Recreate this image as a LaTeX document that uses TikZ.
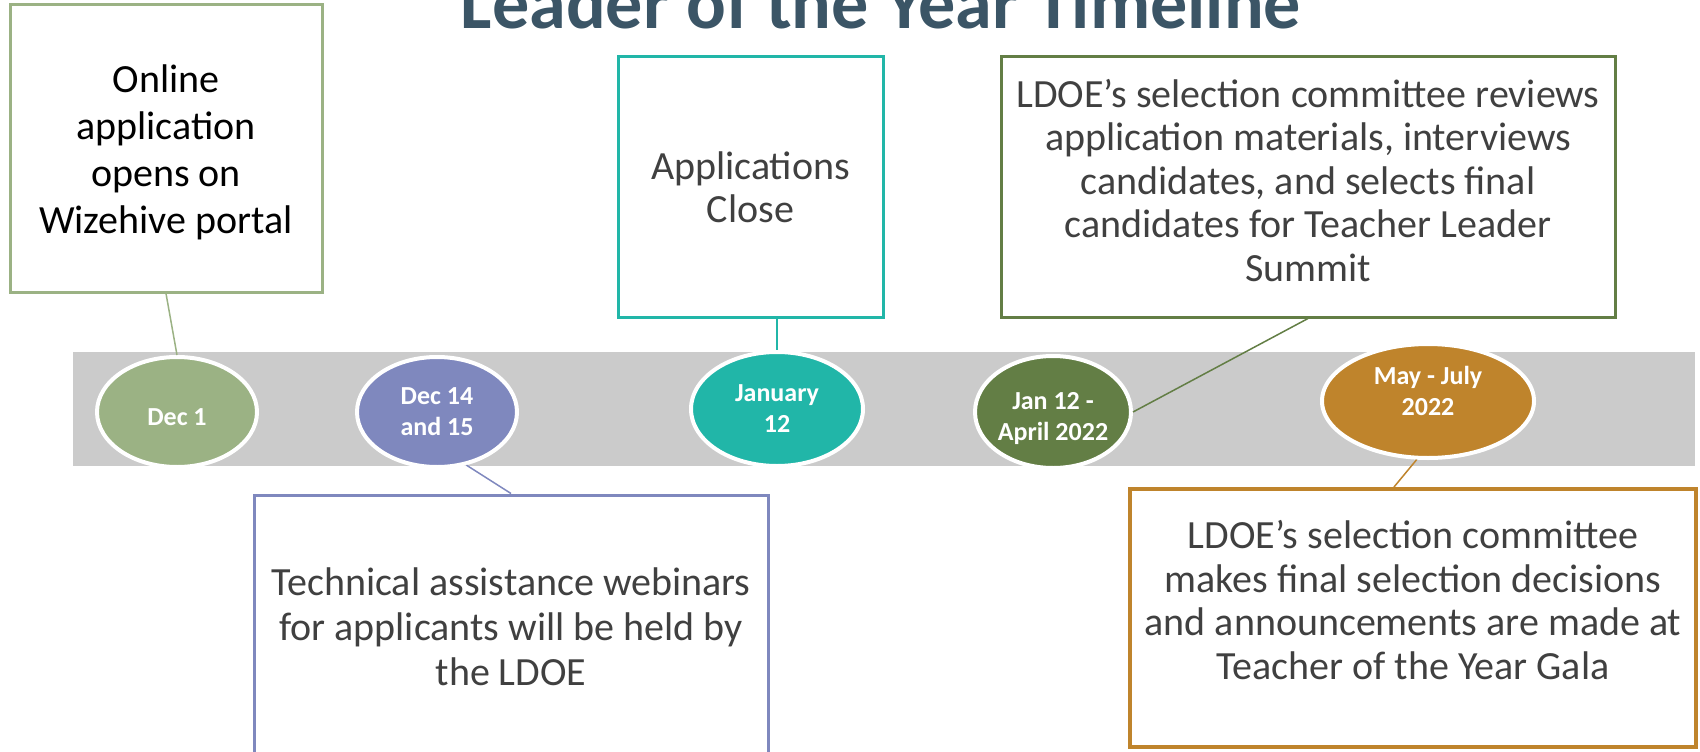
\documentclass[tikz,border=0pt]{standalone}
\usepackage{fontspec}
\setmainfont{Carlito}
\usetikzlibrary{shapes.geometric,calc}
\definecolor{sage}{HTML}{9BB284}
\definecolor{lavender}{HTML}{7F88BE}
\definecolor{teal}{HTML}{21B6A8}
\definecolor{olive}{HTML}{637E45}
\definecolor{ochre}{HTML}{BF842C}
\definecolor{bandgray}{HTML}{CBCBCB}
\definecolor{textgray}{HTML}{404040}
\definecolor{titleblue}{HTML}{3B5566}
\begin{document}
\begin{tikzpicture}[x=1pt,y=-1pt,
  box/.style={draw, line width=3pt, fill=white, rectangle, align=center, inner sep=0pt,
    font=\fontsize{40}{45}\selectfont, text=textgray},
  dot/.style={ellipse, draw=white, line width=4pt, align=center, inner sep=0pt,
    text=white, font=\fontsize{26}{31}\selectfont\bfseries},
  link/.style={line width=1.5pt}]
\useasboundingbox (0,0) rectangle (1700,752);
% title
\node[anchor=base, text=titleblue, inner sep=0pt] (title) at (881,29)
  {\resizebox{840pt}{!}{\bfseries Leader of the Year Timeline}};
% band
\node[fill=bandgray, minimum width=1622pt, minimum height=114pt, inner sep=0pt] (band) at (884,409) {};
% boxes
\node[box, draw=sage, text=black, minimum width=312pt, minimum height=287pt,
  font=\fontsize{40}{47}\selectfont, text height=177pt] (b1) at (166,148.5)
  {Online\\application\\opens on\\Wizehive portal};
\node[box, draw=teal, minimum width=265pt, minimum height=260pt, font=\fontsize{40}{43}\selectfont] (b2) at (750.5,187)
  {Applications\\Close};
\node[box, draw=olive, minimum width=614pt, minimum height=260pt, font=\fontsize{40}{43.5}\selectfont,
  text depth=14pt] (b3) at (1308,187)
  {LDOE’s selection committee reviews\\application materials, interviews\\candidates, and selects final\\candidates for Teacher Leader\\Summit};
\node[box, draw=lavender, minimum width=514pt, minimum height=263pt] (b4) at (511,626.5)
  {Technical assistance webinars\\for applicants will be held by\\the LDOE};
\node[box, draw=ochre, line width=4pt, minimum width=566pt, minimum height=258pt, font=\fontsize{40}{43.5}\selectfont,
  text depth=36pt] (b5) at (1413,618)
  {LDOE’s selection committee\\makes final selection decisions\\and announcements are made at\\Teacher of the Year Gala};
% ellipses
\node[dot, fill=sage, minimum width=160pt, minimum height=110pt, text height=27pt] (e1) at (177,412) {Dec 1};
\node[dot, fill=lavender, minimum width=160pt, minimum height=110pt] (e2) at (437,412) {Dec 14\\and 15};
\node[dot, fill=teal, minimum width=172pt, minimum height=114pt] (e3) at (777,409) {January\\12};
\node[dot, fill=olive, minimum width=156pt, minimum height=112pt, text height=62pt] (e4) at (1053,412) {Jan 12 -\\April 2022};
\node[dot, fill=ochre, minimum width=212pt, minimum height=114pt, text depth=20pt] (e5) at (1428,401) {May - July\\2022};
% connectors
\draw[link, draw=sage] (b1.south) -- (e1.north);
\draw[link, draw=teal] (e3.north |- b2.south) -- (e3.north);
\draw[link, draw=olive] (b3.south) -- (e4.east);
\draw[link, draw=lavender] (b4.north) -- (e2.-61);
\draw[link, draw=ochre] ($(b5.north)+(-19,0)$) -- (e5.-101);
\end{tikzpicture}
\end{document}
